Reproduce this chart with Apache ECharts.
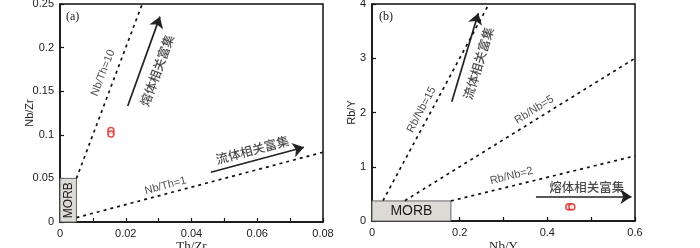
<!DOCTYPE html>
<html>
<head>
<meta charset="utf-8">
<script src="https://cdn.jsdelivr.net/npm/echarts@6/dist/echarts.min.js"></script>
<style>
html, body { margin: 0; padding: 0; background: #fff; }
#main { width: 700px; height: 248px; }
</style>
</head>
<body>
<div id="main"></div>
<script>
var chartDom = document.getElementById('main');
var myChart = echarts.init(chartDom);

// (a) Th/Zr - Nb/Zr
var samplesA = [[0.0155, 0.105], [0.0155, 0.101]];
var lineNbTh10 = [[0.005, 0.05], [0.025, 0.25]];
var lineNbTh1 = [[0.005, 0.005], [0.08, 0.08]];
var morbA = [[0, 0], [0.005, 0.05]];
var arrowMeltA = [[0.0206, 0.133], [0.0304, 0.2355]];
var arrowFluidA = [[0.0459, 0.057], [0.0742, 0.0857]];
var labelsA = [
    { name: 'Nb/Th=10', value: [0.0131, 0.171], rot: 69 },
    { name: 'Nb/Th=1', value: [0.0321, 0.0416], rot: 15 },
    { name: '熔体相关富集', value: [0.0295, 0.174], rot: 70 },
    { name: '流体相关富集', value: [0.0585, 0.0826], rot: 15 }
];

// (b) Nb/Y - Rb/Y
var samplesB = [[0.449, 0.26], [0.456, 0.26]];
var lineRbNb15 = [[0.025, 0.375], [0.2667, 4]];
var lineRbNb5 = [[0.075, 0.375], [0.6, 3.0]];
var lineRbNb2 = [[0.18, 0.37], [0.6, 1.2]];
var morbB = [[0, 0], [0.18, 0.37]];
var arrowFluidB = [[0.182, 2.2], [0.2425, 3.83]];
var arrowMeltB = [[0.374, 0.448], [0.592, 0.448]];
var labelsB = [
    { name: 'Rb/Nb=15', value: [0.113, 2.05], rot: 62 },
    { name: 'Rb/Nb=5', value: [0.37, 2.05], rot: 32 },
    { name: 'Rb/Nb=2', value: [0.318, 0.83], rot: 14 },
    { name: '流体相关富集', value: [0.2425, 2.907], rot: 73 },
    { name: '熔体相关富集', value: [0.49, 0.63], rot: 0 }
];

var sans = 'Liberation Sans';
var cjk = 'Noto Sans CJK SC';

function dotted(data, ax) {
    return {
        type: 'line', xAxisIndex: ax, yAxisIndex: ax, data: data,
        symbol: 'none', silent: true,
        lineStyle: { color: '#111', width: 1.7, type: [3, 4] }
    };
}
function arrow(coords, ax) {
    return {
        type: 'lines', coordinateSystem: 'cartesian2d', xAxisIndex: ax, yAxisIndex: ax,
        symbol: ['none', 'arrow'], symbolSize: [8, 11], silent: true,
        lineStyle: { color: '#222', width: 1.7, opacity: 1, curveness: 0 },
        data: [{ coords: coords }]
    };
}
function texts(list, ax) {
    return {
        type: 'scatter', xAxisIndex: ax, yAxisIndex: ax, symbolSize: 1, silent: true,
        itemStyle: { color: 'transparent' },
        data: list.map(function (d) {
            var isCjk = /[\u4e00-\u9fa5]/.test(d.name);
            return {
                name: d.name, value: d.value,
                label: {
                    show: true, position: 'inside', formatter: '{b}', rotate: d.rot,
                    color: '#1a1a1a', fontFamily: isCjk ? cjk : sans, fontSize: isCjk ? 12.5 : 11,
                    fontWeight: isCjk ? 500 : 'normal'
                }
            };
        })
    };
}
function box(rect, ax, text, rot, size) {
    return {
        type: 'line', xAxisIndex: ax, yAxisIndex: ax, data: [], silent: true,
        markArea: {
            silent: true,
            itemStyle: { color: '#dddbd6', borderColor: '#666', borderWidth: 1 },
            label: { show: true, position: 'inside', rotate: rot, color: '#1a1a1a', fontFamily: sans, fontSize: size },
            data: [[{ name: text, coord: rect[0] }, { coord: rect[1] }]]
        }
    };
}
function samples(data, ax) {
    return {
        type: 'scatter', xAxisIndex: ax, yAxisIndex: ax, data: data, symbol: 'circle', symbolSize: 6,
        itemStyle: { color: '#fff', borderColor: '#e0201c', borderWidth: 1.6 }
    };
}

var axisCommon = {
    nameMoveOverlap: false,
    axisLine: { show: true, onZero: false, lineStyle: { color: '#111', width: 1.5 } },
    axisTick: { show: true, inside: true, length: 4, lineStyle: { color: '#111', width: 1.2 } },
    splitLine: { show: false }
};

option = {
    backgroundColor: '#fff',
    animation: false,
    grid: [
        { left: 60, top: 4, width: 263, height: 218, show: true, borderColor: '#111', borderWidth: 1.5,
          containLabel: false, outerBoundsMode: 'none' },
        { left: 372, top: 4, width: 263, height: 217, show: true, borderColor: '#111', borderWidth: 1.5,
          containLabel: false, outerBoundsMode: 'none' }
    ],
    xAxis: [
        Object.assign({
            type: 'value', gridIndex: 0, min: 0, max: 0.08, interval: 0.01,
            name: 'Th/Zr', nameLocation: 'middle', nameGap: 18,
            nameTextStyle: { fontFamily: 'Liberation Serif', fontSize: 13, color: '#222' },
            axisLabel: {
                color: '#222', fontFamily: sans, fontSize: 11, margin: 6,
                formatter: function (v) { return Math.round(v * 100) % 2 === 0 ? String(+v.toFixed(2)) : ''; }
            }
        }, axisCommon),
        Object.assign({
            type: 'value', gridIndex: 1, min: 0, max: 0.6, interval: 0.1,
            name: 'Nb/Y', nameLocation: 'middle', nameGap: 19,
            nameTextStyle: { fontFamily: 'Liberation Serif', fontSize: 13, color: '#222' },
            axisLabel: {
                color: '#222', fontFamily: sans, fontSize: 11, margin: 6,
                formatter: function (v) { return Math.round(v * 10) % 2 === 0 ? String(+v.toFixed(1)) : ''; }
            }
        }, axisCommon)
    ],
    yAxis: [
        Object.assign({
            type: 'value', gridIndex: 0, min: 0, max: 0.25, interval: 0.05,
            name: 'Nb/Zr', nameLocation: 'middle', nameGap: 25,
            nameTextStyle: { fontFamily: sans, fontSize: 11, color: '#222' },
            axisLabel: { color: '#222', fontFamily: sans, fontSize: 11, margin: 6 }
        }, axisCommon),
        Object.assign({
            type: 'value', gridIndex: 1, min: 0, max: 4, interval: 1,
            name: 'Rb/Y', nameLocation: 'middle', nameGap: 15,
            nameTextStyle: { fontFamily: sans, fontSize: 11, color: '#222' },
            axisLabel: { color: '#222', fontFamily: sans, fontSize: 11, margin: 6 }
        }, axisCommon)
    ],
    graphic: [
        { type: 'text', left: 66, top: 11, style: { text: '(a)', fontFamily: 'Liberation Serif', fontSize: 12, fill: '#222' } },
        { type: 'text', left: 379, top: 11, style: { text: '(b)', fontFamily: 'Liberation Serif', fontSize: 12, fill: '#222' } }
    ],
    series: [
        box(morbA, 0, 'MORB', 90, 12),
        dotted(lineNbTh10, 0),
        dotted(lineNbTh1, 0),
        arrow(arrowMeltA, 0),
        arrow(arrowFluidA, 0),
        texts(labelsA, 0),
        samples(samplesA, 0),

        box(morbB, 1, 'MORB', 0, 14),
        dotted(lineRbNb15, 1),
        dotted(lineRbNb5, 1),
        dotted(lineRbNb2, 1),
        arrow(arrowFluidB, 1),
        arrow(arrowMeltB, 1),
        texts(labelsB, 1),
        samples(samplesB, 1)
    ]
};

myChart.setOption(option);
window.addEventListener('resize', function () {
    myChart.resize();
});
</script>
</body>
</html>
